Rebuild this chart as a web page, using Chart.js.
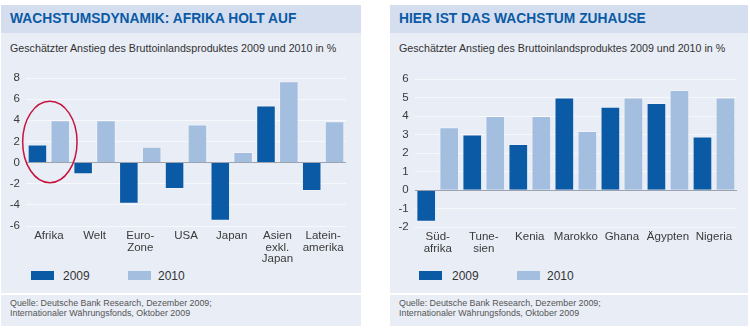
<!DOCTYPE html>
<html>
<head>
<meta charset="utf-8">
<script src="https://cdn.jsdelivr.net/npm/chart.js@4/dist/chart.umd.min.js"></script>
<style>
  body { margin: 0; background: #fff; width: 750px; height: 333px; position: relative; overflow: hidden;
         font-family: "Liberation Sans", Arial, sans-serif; }
  .panel { position: absolute; top: 5px; }
  .head { position: absolute; left: 0; top: 0; right: 0; height: 28px; background: #d4deef; }
  .head span { position: absolute; left: 9px; top: 6px; font-weight: bold; font-size: 13.8px; color: #0b5aa5; white-space: nowrap; }
  .body { position: absolute; left: 0; top: 28px; right: 0; height: 260px; background: #e9edf6; }
  .sub { position: absolute; left: 9px; top: 9px; font-size: 10.7px; color: #333; white-space: nowrap; }
  .foot { position: absolute; left: 0; top: 290px; right: 0; height: 31px; background: #e9edf6; }
  .foot div { position: absolute; left: 9px; top: 3px; font-size: 8.9px; line-height: 10px; color: #555; white-space: nowrap; }
  canvas { position: absolute; }
  .legend { position: absolute; top: 238px; font-size: 12px; color: #333; }
  .legend i { position: absolute; top: 0; width: 23px; height: 9px; }
  .legend b { position: absolute; top: -2px; font-weight: normal; }
</style>
</head>
<body>
<div class="panel" id="pl" style="left:1px;width:360px;height:321px">
  <div class="head"><span>WACHSTUMSDYNAMIK: AFRIKA HOLT AUF</span></div>
  <div class="body">
    <div class="sub">Geschätzter Anstieg des Bruttoinlandsproduktes 2009 und 2010 in %</div>
    <div class="legend" style="left:30px">
      <i style="left:0;background:#0a5aa6"></i><b style="left:32px">2009</b>
      <i style="left:97px;background:#a4bee0"></i><b style="left:127px">2010</b>
    </div>
  </div>
  <canvas id="leftChart" width="360" height="210" style="left:0;top:55px"></canvas>
  <div class="foot"><div>Quelle: Deutsche Bank Research, Dezember 2009;<br>Internationaler Währungsfonds, Oktober 2009</div></div>
</div>
<div class="panel" id="pr" style="left:390px;width:358px;height:321px">
  <div class="head"><span>HIER IST DAS WACHSTUM ZUHAUSE</span></div>
  <div class="body">
    <div class="sub">Geschätzter Anstieg des Bruttoinlandsproduktes 2009 und 2010 in %</div>
    <div class="legend" style="left:29px">
      <i style="left:0;background:#0a5aa6"></i><b style="left:33px">2009</b>
      <i style="left:98px;background:#a4bee0"></i><b style="left:128px">2010</b>
    </div>
  </div>
  <canvas id="rightChart" width="358" height="210" style="left:0;top:55px"></canvas>
  <div class="foot"><div>Quelle: Deutsche Bank Research, Dezember 2009;<br>Internationaler Währungsfonds, Oktober 2009</div></div>
</div>

<script>
// GDP growth estimates, 2009 and 2010, in percent
const worldRegions = [['Afrika'], ['Welt'], ['Euro-', 'Zone'], ['USA'], ['Japan'], ['Asien', 'exkl.', 'Japan'], ['Latein-', 'amerika']];
const world2009 = [1.7, -1.1, -3.9, -2.5, -5.5, 5.4, -2.7];
const world2010 = [4.0, 4.0, 1.5, 3.6, 1.0, 7.7, 3.9];
const worldTicks = { min: -6, max: 8, step: 2 };

const africaCountries = [['Süd-', 'afrika'], ['Tune-', 'sien'], 'Kenia', 'Marokko', 'Ghana', 'Ägypten', 'Nigeria'];
const africa2009 = [-1.7, 3.0, 2.5, 5.0, 4.5, 4.7, 2.9];
const africa2010 = [3.4, 4.0, 4.0, 3.2, 5.0, 5.4, 5.0];
const africaTicks = { min: -2, max: 6, step: 1 };

const DARK = '#0a5aa6';
const LIGHT = '#a4bee0';

// red ring around the Afrika bars
const ringPlugin = {
    id: 'ring',
    afterDatasetsDraw(chart) {
        const x = chart.scales.x, y = chart.scales.y;
        const cw = x.width / x.ticks.length;
        const cx = x.getPixelForValue(0) + 1;
        const top = y.getPixelForValue(5.8), bottom = y.getPixelForValue(-1.9);
        const ctx = chart.ctx;
        ctx.save();
        ctx.strokeStyle = '#c4143f';
        ctx.lineWidth = 1.5;
        ctx.beginPath();
        ctx.ellipse(cx, (top + bottom) / 2, cw * 0.595, (bottom - top) / 2, 0, 0, Math.PI * 2);
        ctx.stroke();
        ctx.restore();
    }
};

function makeChart(id, labels, d09, d10, ticks, geo, plugins) {
    return new Chart(document.getElementById(id), {
        type: 'bar',
        data: {
            labels: labels,
            datasets: [
                { label: '2009', data: d09, backgroundColor: DARK, borderColor: 'rgba(255,255,255,0.25)', borderWidth: 1 },
                { label: '2010', data: d10, backgroundColor: LIGHT, borderColor: 'rgba(255,255,255,0.35)', borderWidth: 1 }
            ]
        },
        options: {
            responsive: false,
            animation: false,
            events: [],
            categoryPercentage: 1,
            barPercentage: 0.855,
            layout: { padding: { top: geo.top, right: geo.right, left: 0, bottom: 0 } },
            plugins: { legend: { display: false }, tooltip: { enabled: false } },
            scales: {
                x: {
                    grid: { display: false, drawTicks: false },
                    border: { display: false },
                    ticks: {
                        color: '#3a3a3a', padding: 4, maxRotation: 0, autoSkip: false,
                        font: { family: 'Liberation Sans', size: 11.5, lineHeight: 1.02 }
                    },
                    afterFit: s => { s.height = geo.xh; }
                },
                y: {
                    min: ticks.min, max: ticks.max,
                    grid: {
                        drawTicks: false,
                        color: c => c.tick.value === 0 ? '#9da3ae' : 'rgba(255,255,255,0.6)',
                        lineWidth: 1
                    },
                    border: { display: false },
                    ticks: {
                        stepSize: ticks.step, padding: 6, color: '#3a3a3a',
                        font: { family: 'Liberation Sans', size: 11.5 }
                    },
                    afterFit: s => { s.width = geo.yw; }
                }
            }
        },
        plugins: plugins || []
    });
}

makeChart('leftChart', worldRegions, world2009, world2010, worldTicks,
    { top: 18, right: 15, xh: 44, yw: 25 }, [ringPlugin]);
makeChart('rightChart', africaCountries, africa2009, africa2010, africaTicks,
    { top: 19, right: 11, xh: 42.7, yw: 24.7 });
</script>
</body>
</html>
